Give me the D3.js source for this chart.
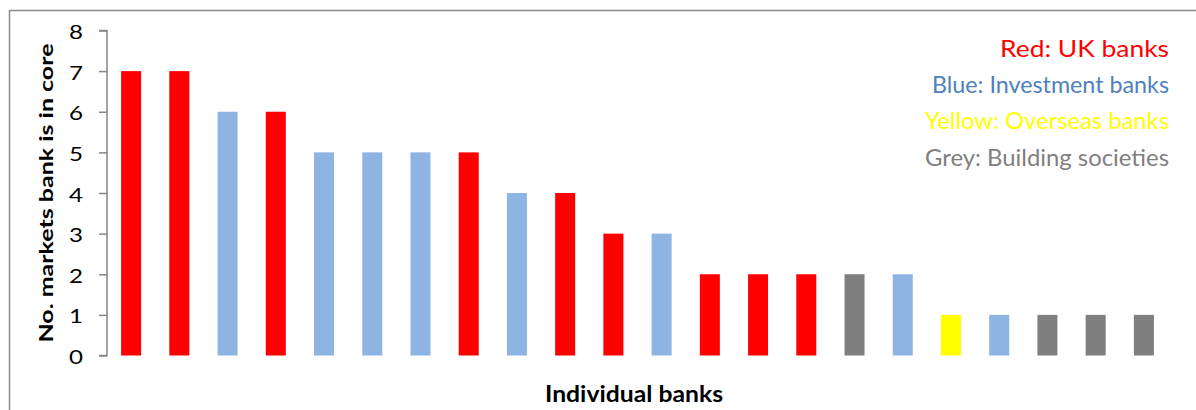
<!DOCTYPE html>
<html>
<head>
<meta charset="utf-8">
<script src="https://cdn.jsdelivr.net/npm/d3@7/dist/d3.min.js"></script>
<style>
  html, body { margin: 0; padding: 0; background: #fff; }
  svg { display: block; font-family: Lato, "Open Sans", sans-serif; }
</style>
</head>
<body>
<svg id="chart" width="1196" height="410"></svg>
<script>
// ---- data ----
const banks = ["B1","B2","B3","B4","B5","B6","B7","B8","B9","B10","B11","B12","B13","B14","B15","B16","B17","B18","B19","B20","B21","B22"];
const coreCounts = [7,7,6,6,5,5,5,5,4,4,3,3,2,2,2,2,2,1,1,1,1,1];
const bankTypes = ["UK","UK","Inv","UK","Inv","Inv","Inv","UK","Inv","UK","UK","Inv","UK","UK","UK","BS","Inv","OS","Inv","BS","BS","BS"];
const typeKeys = ["UK","Inv","OS","BS"];
const legendLabels = ["Red: UK banks","Blue: Investment banks","Yellow: Overseas banks","Grey: Building societies"];
const yTicks = [0,1,2,3,4,5,6,7,8];
const yTitle = "No. markets bank is in core";
const xTitle = "Individual banks";

// ---- styles ----
const barColor = d3.scaleOrdinal().domain(typeKeys).range(["#FF0000","#8EB4E3","#FFFF00","#7F7F7F"]);
const textColor = d3.scaleOrdinal().domain(typeKeys).range(["#FF0000","#4F81BD","#FFFF00","#7F7F7F"]);

const svg = d3.select("#chart");
const plot = { left: 107, right: 1168, top: 30.5, bottom: 355.5 };

// outer frame (extends past right/bottom edges)
svg.append("rect")
  .attr("x", 9.5).attr("y", 10.5)
  .attr("width", 1300).attr("height", 500)
  .attr("fill", "none").attr("stroke", "#8c8c8c").attr("stroke-width", 1.5);

const x = d3.scaleBand().domain(banks).range([plot.left, plot.right]).paddingInner(0.585).paddingOuter(0.2925);
const y = d3.scaleLinear().domain([0, 8]).range([plot.bottom, plot.top]);

// bars
svg.append("g").selectAll("rect")
  .data(banks)
  .join("rect")
  .attr("x", d => x(d))
  .attr("width", x.bandwidth())
  .attr("y", (d, i) => y(coreCounts[i]))
  .attr("height", (d, i) => y(0) - y(coreCounts[i]))
  .attr("fill", (d, i) => barColor(bankTypes[i]));

// y axis
const yAxis = svg.append("g")
  .attr("transform", `translate(${plot.left},0)`)
  .call(d3.axisLeft(y).tickValues(yTicks).tickFormat(d3.format("d")).tickSize(8).tickPadding(16));
yAxis.selectAll("path, line").attr("stroke", "#868686").attr("stroke-width", 1.5);
yAxis.select(".domain").attr("d", `M-8,${y(8)}H0V${y(0)}H-8`);
yAxis.selectAll("text")
  .attr("fill", "#000")
  .style("font-family", "Lato, sans-serif")
  .style("font-size", "20px")
  .attr("dy", "0.4em")
  .attr("textLength", 14)
  .attr("lengthAdjust", "spacingAndGlyphs");

// y title
svg.append("text")
  .attr("transform", `translate(53,${(plot.top + plot.bottom) / 2}) rotate(-90)`)
  .attr("text-anchor", "middle")
  .style("font-weight", "bold")
  .style("font-size", "19px")
  .attr("fill", "#000")
  .attr("textLength", 299)
  .attr("lengthAdjust", "spacingAndGlyphs")
  .text(yTitle);

// x title
svg.append("text")
  .attr("x", 634).attr("y", 402)
  .attr("text-anchor", "middle")
  .style("font-weight", "bold")
  .style("font-size", "22px")
  .attr("fill", "#000")
  .attr("textLength", 178)
  .attr("lengthAdjust", "spacingAndGlyphs")
  .text(xTitle);

// legend text
const legTargets = [169, 237, 244, 244];
svg.append("g").selectAll("text")
  .data(legendLabels)
  .join("text")
  .attr("x", 1169)
  .attr("y", (d, i) => 56.5 + i * 36.4)
  .attr("text-anchor", "end")
  .style("font-size", "24px")
  .attr("fill", (d, i) => textColor(typeKeys[i]))
  .attr("textLength", (d, i) => legTargets[i])
  .attr("lengthAdjust", "spacingAndGlyphs")
  .text(d => d);
</script>
</body>
</html>
